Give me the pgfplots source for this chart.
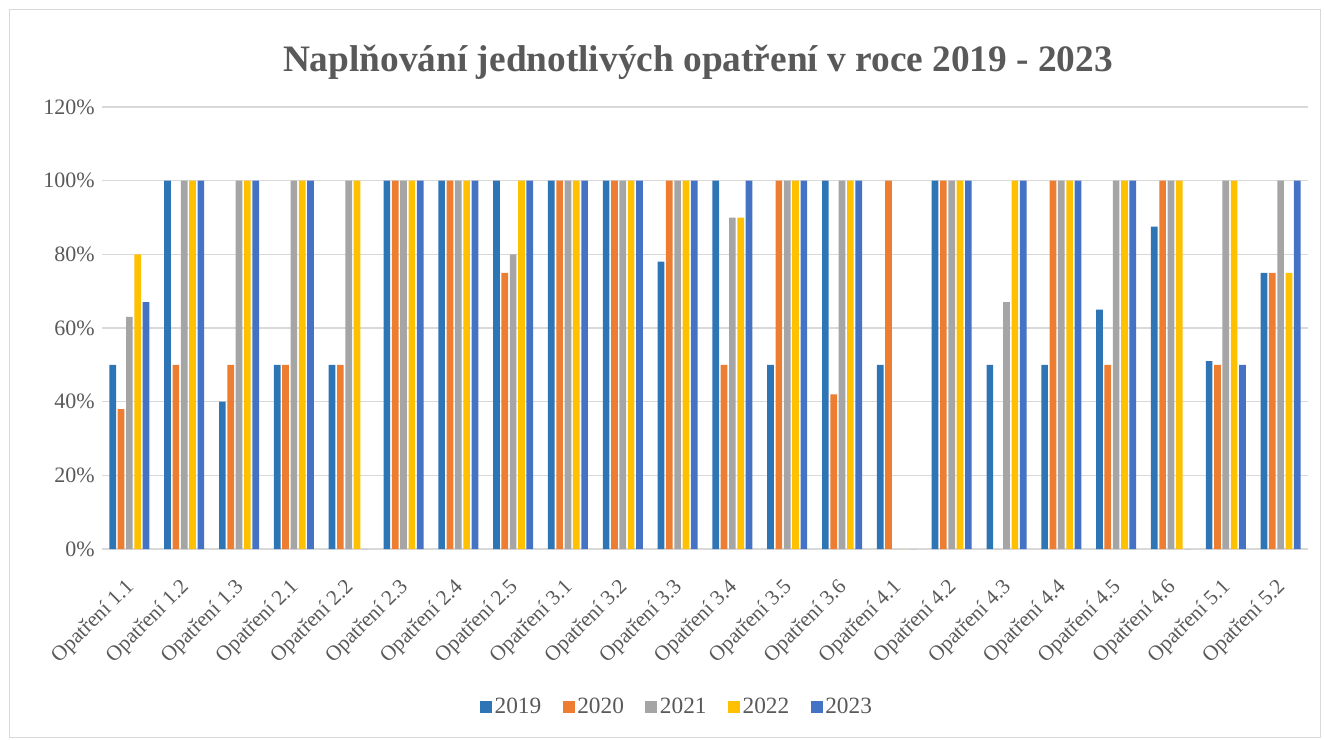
\documentclass[border=0pt]{standalone}
\usepackage{pgfplots}
\usepackage{pgfplotstable}
\pgfplotsset{compat=1.18}
\usepackage{fontspec}
\setmainfont{Liberation Serif}
\definecolor{c19}{HTML}{2E75B6}
\definecolor{c20}{HTML}{ED7D31}
\definecolor{c21}{HTML}{A5A5A5}
\definecolor{c22}{HTML}{FFC000}
\definecolor{c23}{HTML}{4472C4}
\definecolor{txt}{HTML}{595959}
\definecolor{grd}{HTML}{D9D9D9}
\pgfplotstableread{
x y19 y20 y21 y22 y23
0 50 38 63 80 67
1 100 50 100 100 100
2 40 50 100 100 100
3 50 50 100 100 100
4 50 50 100 100 0
5 100 100 100 100 100
6 100 100 100 100 100
7 100 75 80 100 100
8 100 100 100 100 100
9 100 100 100 100 100
10 78 100 100 100 100
11 100 50 90 90 100
12 50 100 100 100 100
13 100 42 100 100 100
14 50 100 0 0 0
15 100 100 100 100 100
16 50 0 67 100 100
17 50 100 100 100 100
18 65 50 100 100 100
19 87.5 100 100 100 0
20 51 50 100 100 50
21 75 75 100 75 100
}\datatable
\begin{document}
\begin{tikzpicture}
\path[use as bounding box] (-76.5pt,-142.5pt) rectangle (916.5pt,411.75pt);
\draw[grd, line width=0.75pt] (-69pt,-141pt) rectangle (913.5pt,404.25pt);
\node[font=\bfseries\fontsize{28}{32}\selectfont, text=txt] at (447pt,365.25pt) {Naplňování jednotlivých opatření v roce 2019 - 2023};
\begin{axis}[
  at={(0pt,0pt)}, anchor=south west,
  scale only axis, width=904.5pt, height=331.5pt,
  ymin=0, ymax=120, xmin=-0.5, xmax=21.5,
  ybar=1.25pt, bar width=5pt,
  axis line style={draw=none},
  ymajorgrids, grid style={grd, line width=1.1pt},
  ytick={0,20,...,120},
  yticklabel={\pgfmathprintnumber{\tick}\%},
  major tick length=0pt,
  xtick={0,...,21},
  xticklabels={Opatření 1.1,Opatření 1.2,Opatření 1.3,Opatření 2.1,Opatření 2.2,Opatření 2.3,Opatření 2.4,Opatření 2.5,Opatření 3.1,Opatření 3.2,Opatření 3.3,Opatření 3.4,Opatření 3.5,Opatření 3.6,Opatření 4.1,Opatření 4.2,Opatření 4.3,Opatření 4.4,Opatření 4.5,Opatření 4.6,Opatření 5.1,Opatření 5.2},
  x tick label style={xshift=-4pt, yshift=-21pt, rotate=45, anchor=north east, font=\fontsize{16}{18}\selectfont, text=txt, inner sep=0pt},
  y tick label style={font=\fontsize{16.5}{18}\selectfont, text=txt, xshift=-2pt},
  /pgf/number format/assume math mode=true,
  legend style={at={(0.477,-0.357)}, anchor=center, draw=none, fill=none, legend columns=5,
    font=\fontsize{17.5}{19}\selectfont, text=txt,
    /tikz/every even column/.append style={column sep=14pt}},
  legend image code/.code={\fill[#1] (0pt,-4.5pt) rectangle (9pt,4.5pt);},
]
\addplot[fill=c19, draw=none] table[x=x, y=y19] {\datatable};
\addplot[fill=c20, draw=none] table[x=x, y=y20] {\datatable};
\addplot[fill=c21, draw=none] table[x=x, y=y21] {\datatable};
\addplot[fill=c22, draw=none] table[x=x, y=y22] {\datatable};
\addplot[fill=c23, draw=none] table[x=x, y=y23] {\datatable};
\legend{2019,2020,2021,2022,2023}
\end{axis}
\end{tikzpicture}
\end{document}
